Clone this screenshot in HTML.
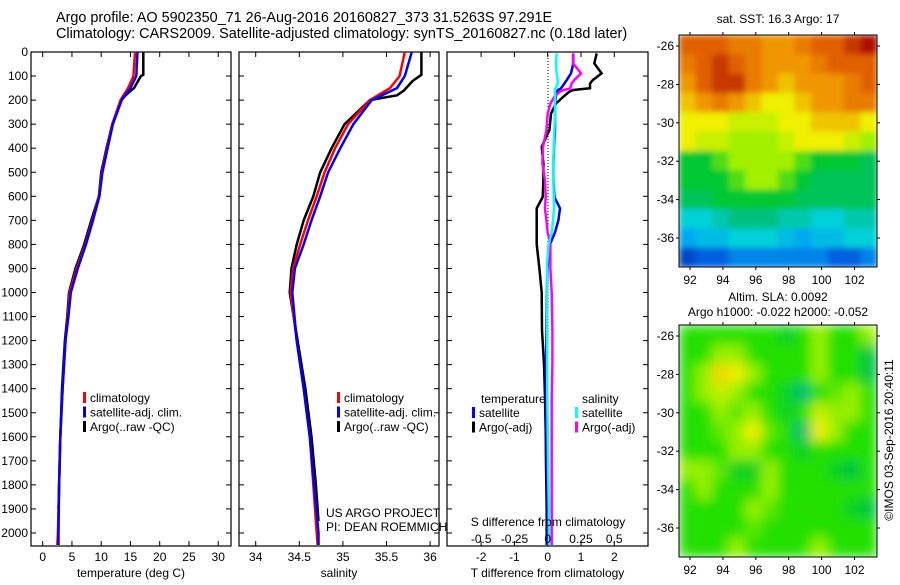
<!DOCTYPE html>
<html><head><meta charset="utf-8"><style>
body{margin:0;background:#fff;width:900px;height:580px;overflow:hidden}
svg{font-family:"Liberation Sans",sans-serif;}
</style></head><body>
<svg id="fig" width="900" height="580" viewBox="0 0 900 580" xmlns="http://www.w3.org/2000/svg">
<defs>
<filter id="blur1" x="0" y="0" width="1" height="1"><feGaussianBlur stdDeviation="3" edgeMode="duplicate"/></filter>
<filter id="blur2" x="0" y="0" width="1" height="1"><feGaussianBlur stdDeviation="6" edgeMode="duplicate"/></filter>
</defs>
<text x="56" y="22" font-size="14.4">Argo profile: AO 5902350_71 26-Aug-2016 20160827_373 31.5263S 97.291E</text>
<text x="56" y="38" font-size="14.4">Climatology: CARS2009. Satellite-adjusted climatology: synTS_20160827.nc (0.18d later)</text>
<g id="p1"></g>
<g id="p2"></g>
<g id="p3"></g>
<g id="m1"></g>
<g id="m2"></g>
<text x="778" y="23" font-size="12" text-anchor="middle">sat. SST: 16.3 Argo: 17</text>
<text x="778" y="301" font-size="12" text-anchor="middle">Altim. SLA: 0.0092</text>
<text x="778" y="316" font-size="12" text-anchor="middle">Argo h1000: -0.022 h2000: -0.052</text>
<text x="0" y="0" font-size="12" text-anchor="middle" transform="translate(893,440) rotate(-90)">©IMOS 03-Sep-2016 20:40:11</text>
<text x="326" y="517" font-size="12">US ARGO PROJECT</text>
<text x="326" y="531" font-size="12">PI: DEAN ROEMMICH</text>
</svg>
<script>
// ---- data ----
const depthTicks=[0,100,200,300,400,500,600,700,800,900,1000,1100,1200,1300,1400,1500,1600,1700,1800,1900,2000];
const tDepth=[0,100,150,200,300,400,500,600,700,800,900,1000,1100,1200,1400,1600,1800,2000,2050];
const tClim=[15.8,15.5,14.6,13.3,11.9,11.0,10.1,9.6,8.5,7.3,5.8,4.6,4.3,3.9,3.4,3.0,2.8,2.6,2.5];
const tSat=[16.2,16.0,15.0,13.5,12.0,11.1,10.2,9.7,8.6,7.4,6.0,4.8,4.4,3.9,3.4,3.0,2.8,2.7,2.7];
const tArgoDepth=[0,95,100,150,170,200,300,400,500,600,700,800,900,1000,1100,1200,1400,1600,1800,1900];
const tArgo=[17.2,17.2,16.8,15.6,14.6,13.4,11.9,10.9,10.0,9.6,8.3,7.1,5.6,4.5,4.2,3.8,3.3,3.0,2.8,2.7];
const sDepth=[0,100,150,200,300,400,500,600,700,800,900,1000,1200,1400,1600,1800,2000,2050];
const sClim=[35.71,35.65,35.54,35.31,35.06,34.91,34.79,34.70,34.60,34.51,34.43,34.40,34.47,34.55,34.62,34.66,34.70,34.71];
const sSat=[35.79,35.71,35.62,35.33,35.12,34.97,34.83,34.74,34.64,34.55,34.45,34.42,34.47,34.55,34.62,34.67,34.72,34.72];
const sArgoDepth=[0,95,120,160,180,200,300,400,500,600,700,800,900,1000,1200,1400,1600,1800,1950];
const sArgo=[35.90,35.90,35.80,35.70,35.62,35.31,35.02,34.87,34.74,34.66,34.55,34.47,34.41,34.39,34.48,34.57,34.64,34.69,34.72];
const dDepth=[6,47,89,117,131,151,158,165,186,214,256,325,394,464,533,603,650,700,750,800,900,1000,1158,1297,1436,1575,1714,1900,2050];
const dTSat=[0.77,0.77,0.70,0.57,0.50,0.40,0.31,0.28,0.24,0.22,0.22,0.22,0.19,0.17,0.17,0.20,0.37,0.32,0.22,0.07,-0.01,-0.03,-0.04,-0.05,-0.05,-0.04,-0.03,0.0,0.0];
const dTArgo=[1.47,1.40,1.62,1.35,1.27,1.27,0.77,0.65,0.47,0.25,0.10,0.05,-0.18,-0.13,-0.13,-0.15,-0.33,-0.33,-0.33,-0.33,-0.25,-0.18,-0.17,-0.11,-0.08,-0.06,-0.05,-0.03,-0.03];
const dSSat=[0.068,0.062,0.068,0.075,0.075,0.06,0.055,0.055,0.055,0.055,0.055,0.05,0.045,0.042,0.042,0.045,0.048,0.040,0.030,0.006,-0.006,-0.006,-0.005,-0.004,-0.003,0.0,0.003,0.008,0.01];
const dSArgo=[0.19,0.19,0.25,0.20,0.18,0.17,0.12,0.09,0.05,0.02,0.0,-0.01,-0.035,-0.04,-0.02,-0.015,-0.02,-0.01,0.0,0.02,0.02,0.03,0.035,0.035,0.03,0.03,0.03,0.03,0.03];
const tTicks=[0,5,10,15,20,25,30];
const sTicks=[34,34.5,35,35.5,36];
const dTTicks=[-2,-1,0,1,2];
const dSTicks=[-0.5,-0.25,0,0.25,0.5];
const lonTicks=[92,94,96,98,100,102];
const latTicks=[-26,-28,-30,-32,-34,-36];
const sstGrid=[
[9,9,9,8.5,8.5,8,8,8.5,9,9,9.5,10],
[8.5,9,9.5,9,8.5,8,8,8,8.5,9,9,9],
[8,9,9.5,9.5,8.5,8,7.5,8,8,8,8.5,9],
[7.5,8,8.5,8,7.5,7,7,7.5,8,8,8.5,8.5],
[7,7,7,6.5,6.5,6.5,7,7,7.5,7.5,7.5,7],
[7,6.5,6.5,6,6,6,6.5,7,7,7,6.5,6],
[5,5,5.5,6,6,6,6,5.5,5,5,5,4.5],
[5,5,5,5.5,6,6,5.5,5,4.5,4.5,4.5,4.5],
[4.5,4.5,5,5,5,5,5,4.5,4.5,4.5,4.5,4.5],
[3,3,3.5,4,4,4,3.5,3.5,3,3,3.5,3.5],
[2,2.5,2.5,3,3,3,2.5,2,2.5,2.5,3,3],
[0.5,1,1,1.5,1.5,1.5,1.5,1.5,1.5,1,1,1.5]];
const slaGrid=[
[2,2,2,2,2,2,1.5,2,3,2,2,3],
[2,2,3,3,2,2,2,2,3,2,2,1],
[2,3,4.5,4,3,2,2,2,3,2,2,1],
[2,3,3.5,3,2,2,1.5,0.5,2,2.5,3,2],
[2,2,3,2.5,3,2,1.5,2,3.5,3,3,2],
[2,2,2.5,3,4,2.5,2,0.5,4,3,2,2],
[2,2,2,3,3,2,2,1.5,2,2,2,2],
[3,3,2.5,1.5,1.5,3,2,2,2,1.5,1,2],
[2,3,2,2,2,3,2,2,2,2,2,2],
[2,2,2,2,3,2.5,2,2,2,2,1.5,1],
[2,2,2,2,2.5,2,2,2,2,2,2,2],
[2,2,2,3,2,2,2,2,3,2,2,2]];
// ---- helpers ----
const NS="http://www.w3.org/2000/svg";
function mk(parent,tag,attrs,name){const e=document.createElementNS(NS,tag);for(const k in attrs)e.setAttribute(k,attrs[k]);


parent.appendChild(e);return e;}
const top0=52,bot=546;
const yD=d=>top0+d*0.2405;
function panel(g,x0,x1,xs,ticks,labels,xlabel,leftLabels){
  mk(g,'rect',{x:x0,y:top0,width:x1-x0,height:bot-top0,fill:'none',stroke:'#000','stroke-width':1.2},'plot-frame');
  depthTicks.forEach(d=>{const y=yD(d);
    mk(g,'line',{x1:x0,x2:x0+5,y1:y,y2:y,stroke:'#000'},'y-tick');
    mk(g,'line',{x1:x1-5,x2:x1,y1:y,y2:y,stroke:'#000'},'y-tick');
    if(leftLabels){const t=mk(g,'text',{x:x0-3,y:y+4,'font-size':12,'text-anchor':'end'},'y-tick-label');t.textContent=d;}
  });
  ticks.forEach((v,i)=>{const x=xs(v);
    mk(g,'line',{x1:x,x2:x,y1:bot,y2:bot-5,stroke:'#000'},'x-tick');
    mk(g,'line',{x1:x,x2:x,y1:top0,y2:top0+5,stroke:'#000'},'x-tick');
    if(labels){const t=mk(g,'text',{x:x,y:561,'font-size':12,'text-anchor':'middle'},'x-tick-label');t.textContent=labels[i];}
  });
  const t=mk(g,'text',{x:(x0+x1)/2,y:577,'font-size':12,'text-anchor':'middle'},'x-axis-title');t.textContent=xlabel;
}
function line(g,xs,vals,depths,color,w,name){
  const pts=vals.map((v,i)=>xs(v).toFixed(1)+','+yD(depths[i]).toFixed(1)).join(' ');
  mk(g,'polyline',{points:pts,fill:'none',stroke:color,'stroke-width':w,'stroke-linejoin':'miter'},name);
}
function legend(g,x,y,items){items.forEach((it,i)=>{
  mk(g,'rect',{x:x,y:y+i*14.5-10,width:3,height:11,fill:it[1]},'legend-swatch');
  const t=mk(g,'text',{x:x+7,y:y+i*14.5,'font-size':12},'legend-entry');t.textContent=it[0];});}
// panel 1
const p1=document.getElementById('p1');
const xT=v=>42.7+v*5.85;
panel(p1,31,231,xT,tTicks,tTicks,'temperature (deg C)',true);
line(p1,xT,tArgo,tArgoDepth,'#000',2.5,'argo-temperature-line');
line(p1,xT,tClim,tDepth,'#f00',2.5,'climatology-temperature-line');
line(p1,xT,tSat,tDepth,'#00f',2.5,'satellite-temperature-line');
legend(p1,83,402,[['climatology','#f00'],['satellite-adj. clim.','#00f'],['Argo(..raw -QC)','#000']]);
// panel 2
const p2=document.getElementById('p2');
const xS=v=>255.7+(v-34)*87.2;
panel(p2,239,439,xS,sTicks,sTicks.map(String),'salinity',false);
line(p2,xS,sArgo,sArgoDepth,'#000',2.5,'argo-salinity-line');
line(p2,xS,sClim,sDepth,'#f00',2.5,'climatology-salinity-line');
line(p2,xS,sSat,sDepth,'#00f',2.5,'satellite-salinity-line');
legend(p2,337,402,[['climatology','#f00'],['satellite-adj. clim.','#00f'],['Argo(..raw -QC)','#000']]);
// panel 3
const p3=document.getElementById('p3');
const xDT=v=>547.7+v*33.3;
const xDS=v=>547.7+v*133;
panel(p3,447,648,xDT,dTTicks,dTTicks.map(String),'T difference from climatology',false);
mk(p3,'line',{x1:548,x2:548,y1:top0,y2:bot,stroke:'#000','stroke-dasharray':'1,2'},'zero-line');
line(p3,xDT,dTArgo,dDepth,'#000',2.5,'argo-t-diff-line');
line(p3,xDT,dTSat,dDepth,'#00f',2.5,'satellite-t-diff-line');
line(p3,xDS,dSArgo,dDepth,'#f0f',2.5,'argo-s-diff-line');
line(p3,xDS,dSSat,dDepth,'#0ff',2.5,'satellite-s-diff-line');
dSTicks.forEach(v=>{const t=mk(p3,'text',{x:xDS(v),y:543,'font-size':12,'text-anchor':'middle'},'s-tick-label');t.textContent=String(v);});
{const t=mk(p3,'text',{x:548,y:526,'font-size':12,'text-anchor':'middle'},'s-axis-title');t.textContent='S difference from climatology';}
{const t=mk(p3,'text',{x:481,y:403,'font-size':12},'legend-heading-temperature');t.textContent='temperature';}
{const t=mk(p3,'text',{x:582,y:403,'font-size':12},'legend-heading-salinity');t.textContent='salinity';}
legend(p3,472,417,[['satellite','#00f'],['Argo(-adj)','#000']]);
legend(p3,575,417,[['satellite','#0ff'],['Argo(-adj)','#f0f']]);
// maps
function lerp(stops,v){const n=stops.length-1;const f=Math.max(0,Math.min(n,v));const i=Math.min(n-1,Math.floor(f));const t=f-i;
 const a=stops[i],b=stops[i+1];return 'rgb('+[0,1,2].map(k=>Math.round(a[k]+(b[k]-a[k])*t)).join(',')+')';}
const sstStops=[[0,48,176],[0,96,224],[0,168,240],[0,208,216],[0,192,128],[0,200,48],[160,240,0],[240,240,0],[240,150,0],[224,96,0],[176,16,0]];
const slaStops=[[0,184,160],[0,196,64],[32,224,0],[150,240,0],[240,240,0],[240,192,0]];
function map(id,x0,y0,grid,stops,filt){
  const g=document.getElementById(id);const W=198,H=232;
  const lonX=l=>690+(l-92)*16.45, latY=a=>y0+11+(-26-a)*19.2;
  const cw=W/12,ch=H/12;
  const cells=mk(g,'g',{filter:'url(#'+filt+')'},'heatmap-cells');
  grid.forEach((row,r)=>row.forEach((v,c)=>{
    mk(cells,'rect',{x:(x0+c*cw).toFixed(2),y:(y0+r*ch).toFixed(2),width:(cw+0.5).toFixed(2),height:(ch+0.5).toFixed(2),fill:lerp(stops,v)},'heatmap-cell');
  }));
  mk(g,'rect',{x:x0,y:y0,width:W,height:H,fill:'none',stroke:'#000'},'map-frame');
  lonTicks.forEach(l=>{const x=lonX(l);
    mk(g,'line',{x1:x,x2:x,y1:y0+H,y2:y0+H+3,stroke:'#000'},'lon-tick');
    mk(g,'line',{x1:x,x2:x,y1:y0,y2:y0-3,stroke:'#000'},'lon-tick');
    const t=mk(g,'text',{x:x,y:y0+H+17,'font-size':12,'text-anchor':'middle'},'lon-tick-label');t.textContent=l;});
  latTicks.forEach(a=>{const y=latY(a);
    mk(g,'line',{x1:x0-3,x2:x0,y1:y,y2:y,stroke:'#000'},'lat-tick');
    mk(g,'line',{x1:x0+W,x2:x0+W+3,y1:y,y2:y,stroke:'#000'},'lat-tick');
    const t=mk(g,'text',{x:x0-5,y:y+4,'font-size':12,'text-anchor':'end'},'lat-tick-label');t.textContent=a;});
}
map('m1',679,35,sstGrid,sstStops,'blur1');
map('m2',679,325,slaGrid,slaStops,'blur2');
</script>
</body></html>
